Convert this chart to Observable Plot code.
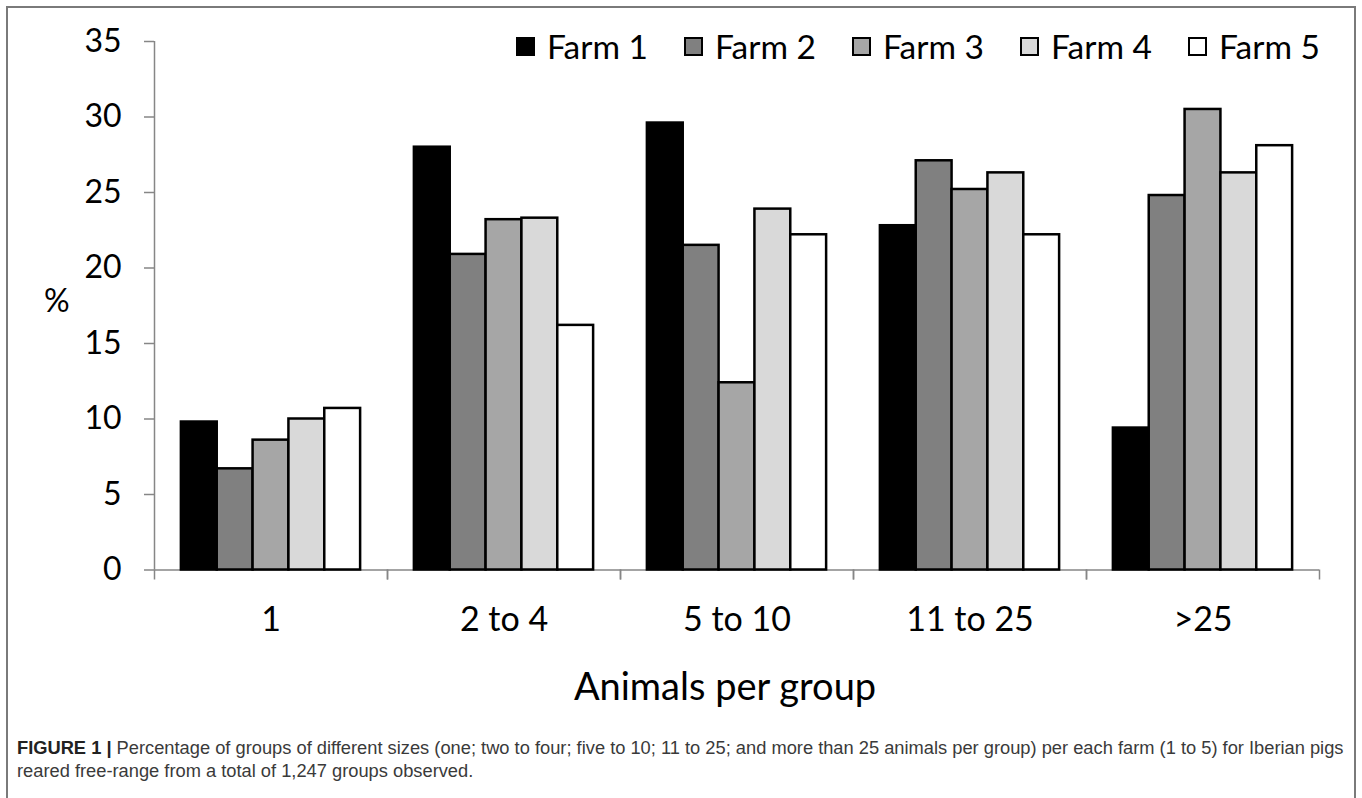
<!DOCTYPE html>
<html>
<head>
<meta charset="utf-8">
<script src="https://cdn.jsdelivr.net/npm/d3@7"></script>
<script src="https://cdn.jsdelivr.net/npm/@observablehq/plot@0.6"></script>
<style>
  html, body { margin: 0; padding: 0; background: #fff; }
  #wrap { position: relative; width: 1362px; height: 798px; overflow: hidden; font-family: Lato, "Open Sans", sans-serif; }
  #frame { position: absolute; left: 6px; top: 6px; width: 1350px; height: 820px; border: 2px solid #7a7a7a; box-sizing: border-box; }
  #chart { position: absolute; left: 0; top: 0; }
  #legend { position: absolute; left: 516px; top: 26px; display: flex; align-items: center; }
  .item { display: flex; align-items: center; width: 168px; }
  .item:last-child { width: auto; }
  .sw { width: 15px; height: 15px; border: 2.5px solid #000; margin-right: 12px; }
  .lab { font-size: 33.5px; line-height: 40px; color: #000; }
  #ylabel { position: absolute; left: 44px; top: 280px; font-size: 32px; line-height: 40px; color: #000; }
  #xlabel { position: absolute; left: 725px; top: 665px; transform: translateX(-50%); font-size: 38px; line-height: 40px; color: #000; white-space: nowrap; }
  #caption { position: absolute; left: 17px; top: 736px; font-family: "Liberation Sans", Arial, sans-serif; font-size: 18.3px; line-height: 23px; color: #3a3a3a; white-space: nowrap; }
  #caption b { color: #222; }
</style>
</head>
<body>
<div id="wrap">
  <div id="frame"></div>
  <div id="chart"></div>
  <div id="legend"></div>
  <div id="ylabel">%</div>
  <div id="xlabel">Animals per group</div>
  <div id="caption"><b>FIGURE 1 |</b> Percentage of groups of different sizes (one; two to four; five to 10; 11 to 25; and more than 25 animals per group) per each farm (1 to 5) for Iberian pigs<br>reared free-range from a total of 1,247 groups observed.</div>
</div>
<script>
// ---- data ----
const categories = ["1", "2 to 4", "5 to 10", "11 to 25", ">25"];
const farms = ["Farm 1", "Farm 2", "Farm 3", "Farm 4", "Farm 5"];
const farm1 = [9.8, 28.0, 29.6, 22.8, 9.4];
const farm2 = [6.7, 20.9, 21.5, 27.1, 24.8];
const farm3 = [8.6, 23.2, 12.4, 25.2, 30.5];
const farm4 = [10.0, 23.3, 23.9, 26.3, 26.3];
const farm5 = [10.7, 16.2, 22.2, 22.2, 28.1];
const yTicks = [0, 5, 10, 15, 20, 25, 30, 35];
const farmFills = ["#000000", "#808080", "#a6a6a6", "#d9d9d9", "#ffffff"];

const series = [farm1, farm2, farm3, farm4, farm5];
const rows = categories.flatMap((c, i) =>
  farms.map((f, j) => ({group: c, farm: f, fi: j, value: series[j][i]}))
);

const xDomain = [-0.75, farms.length + 0.75];
const axisGray = "#868686";

const chart = Plot.plot({
  width: 1362,
  height: 650,
  marginLeft: 153.5,
  marginRight: 42,
  marginTop: 41,
  marginBottom: 80.5,
  style: {fontFamily: "Lato, 'Open Sans', sans-serif", background: "transparent", color: "#000", overflow: "visible"},
  fx: {domain: categories, padding: 0},
  x: {domain: xDomain},
  y: {domain: [0, 35]},
  color: {domain: farms, range: farmFills},
  marks: [
    Plot.ruleY([0], {stroke: axisGray, strokeWidth: 1.5}),
    Plot.ruleX([{group: categories[0], x: xDomain[0]}], {fx: "group", x: "x", y1: 0, y2: 35, stroke: axisGray, strokeWidth: 1.5}),
    Plot.axisX({ticks: xDomain, tickSize: 10, tickFormat: () => "", stroke: axisGray, strokeWidth: 1.5, label: null}),
    Plot.axisY({ticks: yTicks, tickSize: 10, tickPadding: 23, fontSize: 32, stroke: axisGray, strokeWidth: 1.5, label: null}),
    Plot.axisFx({anchor: "bottom", tickSize: 0, tickPadding: 37, fontSize: 34, label: null}),
    Plot.rect(rows, {fx: "group", x1: "fi", x2: d => d.fi + 1, y1: 0, y2: "value", fill: "farm", stroke: "#000", strokeWidth: 2.5})
  ]
});
document.getElementById("chart").appendChild(chart);

// legend
const legend = document.getElementById("legend");
farms.forEach((f, j) => {
  const item = document.createElement("div");
  item.className = "item";
  const sw = document.createElement("div");
  sw.className = "sw";
  sw.style.background = farmFills[j];
  const lab = document.createElement("span");
  lab.className = "lab";
  lab.textContent = f;
  item.appendChild(sw);
  item.appendChild(lab);
  legend.appendChild(item);
});
</script>
</body>
</html>
